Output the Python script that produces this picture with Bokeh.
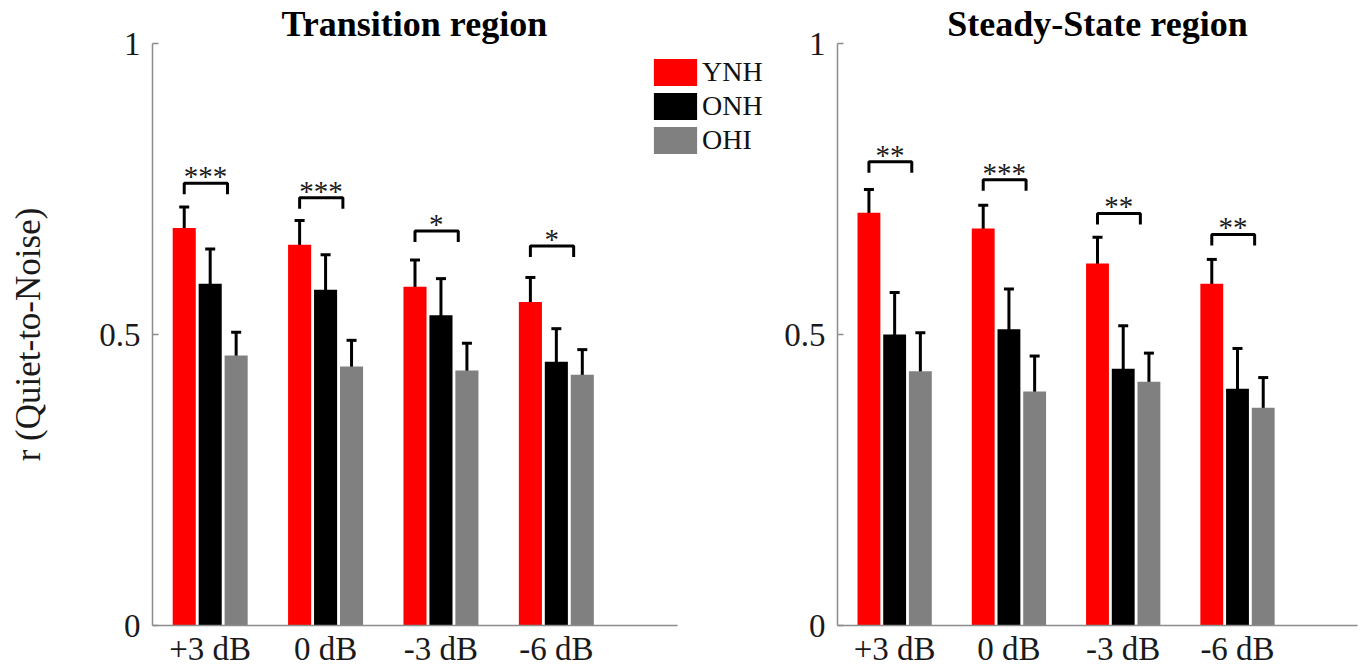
from bokeh.plotting import figure
from bokeh.models import ColumnDataSource, Whisker, TeeHead, FixedTicker, Range1d
from bokeh.layouts import row
from bokeh.embed import file_html
from bokeh.resources import INLINE
from bokeh.core.properties import value

conditions = ["+3 dB", "0 dB", "-3 dB", "-6 dB"]
groups = ["YNH", "ONH", "OHI"]
colors = ["#ff0000", "#000000", "#808080"]

trans_ynh = [0.683, 0.654, 0.582, 0.556]
trans_ynh_err = [0.036, 0.042, 0.046, 0.042]
trans_onh = [0.587, 0.577, 0.533, 0.453]
trans_onh_err = [0.060, 0.060, 0.063, 0.057]
trans_ohi = [0.464, 0.445, 0.438, 0.431]
trans_ohi_err = [0.040, 0.045, 0.047, 0.043]
trans_sig = ["***", "***", "*", "*"]
trans_bracket = [0.760, 0.735, 0.678, 0.652]

ss_ynh = [0.709, 0.682, 0.622, 0.587]
ss_ynh_err = [0.040, 0.040, 0.045, 0.042]
ss_onh = [0.500, 0.509, 0.441, 0.407]
ss_onh_err = [0.072, 0.069, 0.074, 0.069]
ss_ohi = [0.437, 0.402, 0.419, 0.374]
ss_ohi_err = [0.066, 0.061, 0.049, 0.052]
ss_sig = ["**", "***", "**", "**"]
ss_bracket = [0.797, 0.766, 0.708, 0.672]

FONT = "Liberation Serif"
OFFS = [-0.225, 0.0, 0.225]
BW = 0.2
X_AXIS_END = 5.05


def make_panel(title, means, errs, sig, bracket, left_border, right_border,
               frame_w, x_end, with_legend, ylabel):
    p = figure(output_backend="svg", toolbar_location=None,
               frame_width=frame_w, frame_height=582,
               min_border_left=left_border, min_border_right=right_border,
               min_border_top=43, min_border_bottom=43,
               x_range=Range1d(0.5, x_end), y_range=Range1d(0, 1),
               title=title)
    p.title.text_font = FONT
    p.title.text_font_size = "36px"
    p.title.text_font_style = "bold"
    p.title.text_color = "black"
    if with_legend:
        p.title.align = "left"
        p.title.offset = 129
    else:
        p.title.align = "center"
    p.title.standoff = 0
    p.outline_line_color = None
    p.xgrid.visible = False
    p.ygrid.visible = False
    p.background_fill_color = "white"
    p.border_fill_color = "white"

    xs = [i + 1 for i in range(len(conditions))]
    for k, (m, e) in enumerate(zip(means, errs)):
        x = [xi + OFFS[k] for xi in xs]
        src = ColumnDataSource(dict(x=x, top=m,
                                    upper=[a + b for a, b in zip(m, e)],
                                    lower=[a - b for a, b in zip(m, e)]))
        kw = dict(legend_label=groups[k]) if with_legend else {}
        p.vbar(x="x", top="top", width=BW, bottom=0, source=src,
               fill_color=colors[k], line_color=None, **kw)
        w = Whisker(source=src, base="x", upper="upper", lower="lower",
                    line_color="black", line_width=3,
                    upper_head=TeeHead(size=10, line_width=3, line_color="black"),
                    lower_head=TeeHead(size=10, line_width=3, line_color="black"))
        p.add_layout(w)

    # significance brackets (YNH vs OHI)
    drop = 0.019
    bxs, bys = [], []
    for i, b in enumerate(bracket):
        x0 = xs[i] - 0.225
        x1 = xs[i] + 0.15
        bxs.append([x0, x0, x1, x1])
        bys.append([b - drop, b, b, b - drop])
    p.multi_line(xs=bxs, ys=bys, line_color="black", line_width=3)
    p.text(x=[xi - 0.04 for xi in xs], y=bracket, text=sig,
           text_font=value(FONT), text_font_size="29px",
           text_align="center", text_baseline="alphabetic",
           y_offset=-7, text_color="#1a1a1a")

    # axes
    p.xaxis.ticker = FixedTicker(ticks=xs)
    p.xaxis.major_label_overrides = {x: c for x, c in zip(xs, conditions)}
    p.xaxis.bounds = (0.5, X_AXIS_END)
    p.xaxis.major_tick_in = 0
    p.xaxis.major_tick_out = 0
    p.xaxis.minor_tick_line_color = None
    p.xaxis.major_label_standoff = 5
    p.yaxis.ticker = FixedTicker(ticks=[0, 0.5, 1])
    p.yaxis.major_label_overrides = {0: "0", 0.5: "0.5", 1: "1"}
    p.yaxis.major_tick_in = 6
    p.yaxis.major_tick_out = 0
    p.yaxis.minor_tick_line_color = None
    p.yaxis.major_label_standoff = 12
    for ax in (p.xaxis, p.yaxis):
        ax.axis_line_color = "#8c8c8c"
        ax.axis_line_width = 1.5
        ax.major_tick_line_color = "#8c8c8c"
        ax.major_tick_line_width = 1.5
        ax.major_label_text_font = FONT
        ax.major_label_text_font_size = "33px"
        ax.major_label_text_color = "#1a1a1a"
    if ylabel:
        p.yaxis.axis_label = ylabel
        p.yaxis.axis_label_text_font = FONT
        p.yaxis.axis_label_text_font_size = "35px"
        p.yaxis.axis_label_text_font_style = "normal"
        p.yaxis.axis_label_text_color = "#1a1a1a"
        p.yaxis.axis_label_standoff = 48

    if with_legend:
        lg = p.legend[0]
        lg.location = (496, 468)
        lg.border_line_color = None
        lg.background_fill_alpha = 0
        lg.glyph_width = 54
        lg.glyph_height = 34
        lg.label_height = 34
        lg.label_text_font = FONT
        lg.label_text_font_size = "28px"
        lg.label_text_color = "#111111"
        lg.spacing = 0
        lg.padding = 0
        lg.margin = 0
        lg.label_standoff = 0
    return p


p1 = make_panel("Transition region",
                [trans_ynh, trans_onh, trans_ohi],
                [trans_ynh_err, trans_onh_err, trans_ohi_err],
                trans_sig, trans_bracket, 152, 0, 618, 5.856, True,
                "r (Quiet-to-Noise)")
p2 = make_panel("Steady-State region",
                [ss_ynh, ss_onh, ss_ohi],
                [ss_ynh_err, ss_onh_err, ss_ohi_err],
                ss_sig, ss_bracket, 67, 7, 520, 5.05, False, None)

layout = row(p1, p2, spacing=0)
open("out.html", "w").write(file_html(layout, INLINE))
